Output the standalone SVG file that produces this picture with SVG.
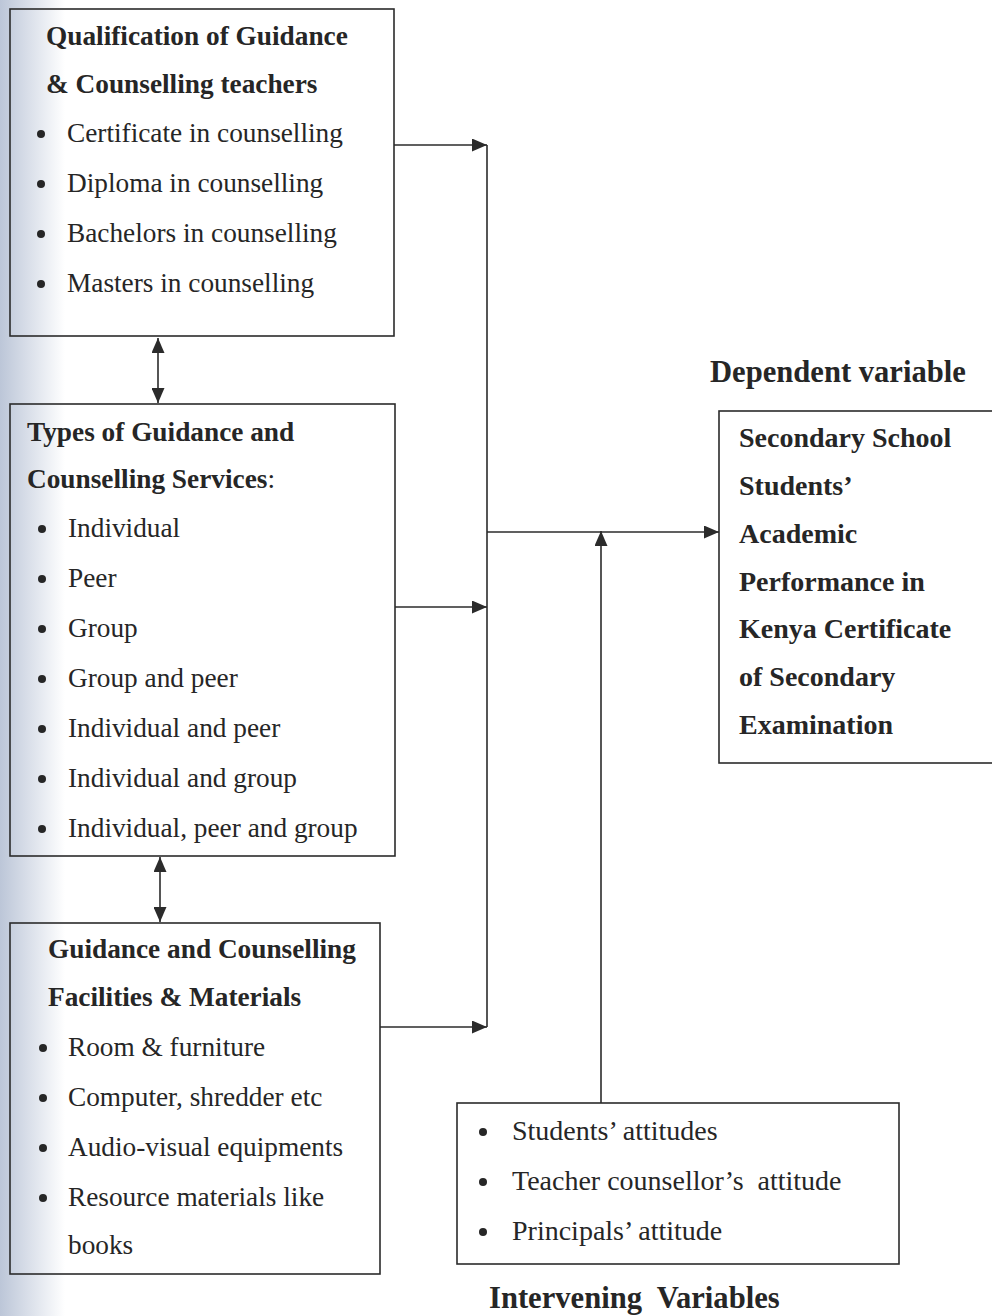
<svg xmlns="http://www.w3.org/2000/svg" width="992" height="1316" viewBox="0 0 992 1316">
<style>
.box{fill:none;stroke:#2b2b2b;stroke-width:1.6}
.ln{fill:none;stroke:#2b2b2b;stroke-width:1.6}
.t{font-family:"Liberation Serif","Times New Roman",serif;font-size:27.3px;fill:#262626}
.b{font-weight:bold}
.d{font-size:28px}
.h{font-size:30.6px}
.dot{fill:#262626}
</style>
<defs>
<linearGradient id="edge" x1="0" y1="0" x2="1" y2="0">
<stop offset="0" stop-color="#bcc6d8"/>
<stop offset="1" stop-color="#ffffff"/>
</linearGradient>
<marker id="ah" viewBox="0 0 15 13" refX="15" refY="6.5" markerWidth="15" markerHeight="13" markerUnits="userSpaceOnUse" orient="auto-start-reverse">
<path d="M0,0 L15,6.5 L0,13 Z" fill="#2b2b2b"/>
</marker>
</defs>
<rect width="992" height="1316" fill="#ffffff"/>
<rect width="65" height="1316" fill="url(#edge)"/>

<g id="connectors">
<line class="ln" x1="158" y1="338" x2="158" y2="403" marker-start="url(#ah)" marker-end="url(#ah)"/>
<line class="ln" x1="160" y1="857" x2="160" y2="922" marker-start="url(#ah)" marker-end="url(#ah)"/>
<line class="ln" x1="394" y1="145" x2="487" y2="145" marker-end="url(#ah)"/>
<line class="ln" x1="395" y1="607" x2="487" y2="607" marker-end="url(#ah)"/>
<line class="ln" x1="380" y1="1027" x2="487" y2="1027" marker-end="url(#ah)"/>
<line class="ln" x1="487" y1="145" x2="487" y2="1027"/>
<line class="ln" x1="487" y1="532" x2="719" y2="532" marker-end="url(#ah)"/>
<line class="ln" x1="601" y1="1103" x2="601" y2="531" marker-end="url(#ah)"/>
</g>

<g id="qualification">
<rect class="box" x="10" y="9" width="384" height="327"/>
<text class="t b" x="46" y="45">Qualification of Guidance</text>
<text class="t b" x="46" y="93">&amp; Counselling teachers</text>
<circle class="dot" cx="41" cy="134" r="4"/>
<text class="t" x="67" y="142">Certificate in counselling</text>
<circle class="dot" cx="41" cy="184" r="4"/>
<text class="t" x="67" y="192">Diploma in counselling</text>
<circle class="dot" cx="41" cy="234" r="4"/>
<text class="t" x="67" y="242">Bachelors in counselling</text>
<circle class="dot" cx="41" cy="284" r="4"/>
<text class="t" x="67" y="292">Masters in counselling</text>
</g>

<g id="types">
<rect class="box" x="10" y="404" width="385" height="452"/>
<text class="t b" x="27" y="441">Types of Guidance and</text>
<text class="t" x="27" y="488"><tspan class="b">Counselling Services</tspan>:</text>
<circle class="dot" cx="42" cy="529" r="4"/>
<text class="t" x="68" y="537">Individual</text>
<circle class="dot" cx="42" cy="579" r="4"/>
<text class="t" x="68" y="587">Peer</text>
<circle class="dot" cx="42" cy="629" r="4"/>
<text class="t" x="68" y="637">Group</text>
<circle class="dot" cx="42" cy="679" r="4"/>
<text class="t" x="68" y="687">Group and peer</text>
<circle class="dot" cx="42" cy="729" r="4"/>
<text class="t" x="68" y="737">Individual and peer</text>
<circle class="dot" cx="42" cy="779" r="4"/>
<text class="t" x="68" y="787">Individual and group</text>
<circle class="dot" cx="42" cy="829" r="4"/>
<text class="t" x="68" y="837">Individual, peer and group</text>
</g>

<g id="facilities">
<rect class="box" x="10" y="923" width="370" height="351"/>
<text class="t b" x="48" y="958">Guidance and Counselling</text>
<text class="t b" x="48" y="1006">Facilities &amp; Materials</text>
<circle class="dot" cx="43" cy="1048" r="4"/>
<text class="t" x="68" y="1056">Room &amp; furniture</text>
<circle class="dot" cx="43" cy="1098" r="4"/>
<text class="t" x="68" y="1106">Computer, shredder etc</text>
<circle class="dot" cx="43" cy="1148" r="4"/>
<text class="t" x="68" y="1156">Audio-visual equipments</text>
<circle class="dot" cx="43" cy="1198" r="4"/>
<text class="t" x="68" y="1206">Resource materials like</text>
<text class="t" x="68" y="1254">books</text>
</g>

<g id="dependent">
<text class="t b h" x="710" y="382">Dependent variable</text>
<rect class="box" x="719" y="411" width="290" height="352"/>
<text class="t b d" x="739" y="447">Secondary School</text>
<text class="t b d" x="739" y="495">Students’</text>
<text class="t b d" x="739" y="543">Academic</text>
<text class="t b d" x="739" y="591">Performance in</text>
<text class="t b d" x="739" y="638">Kenya Certificate</text>
<text class="t b d" x="739" y="686">of Secondary</text>
<text class="t b d" x="739" y="734">Examination</text>
</g>

<g id="intervening">
<rect class="box" x="457" y="1103" width="442" height="161"/>
<circle class="dot" cx="483" cy="1132" r="4"/>
<text class="t d" x="512" y="1140">Students’ attitudes</text>
<circle class="dot" cx="483" cy="1182" r="4"/>
<text class="t d" x="512" y="1190" xml:space="preserve">Teacher counsellor’s  attitude</text>
<circle class="dot" cx="483" cy="1232" r="4"/>
<text class="t d" x="512" y="1240">Principals’ attitude</text>
<text class="t b h" x="489" y="1308" xml:space="preserve">Intervening  Variables</text>
</g>
</svg>
